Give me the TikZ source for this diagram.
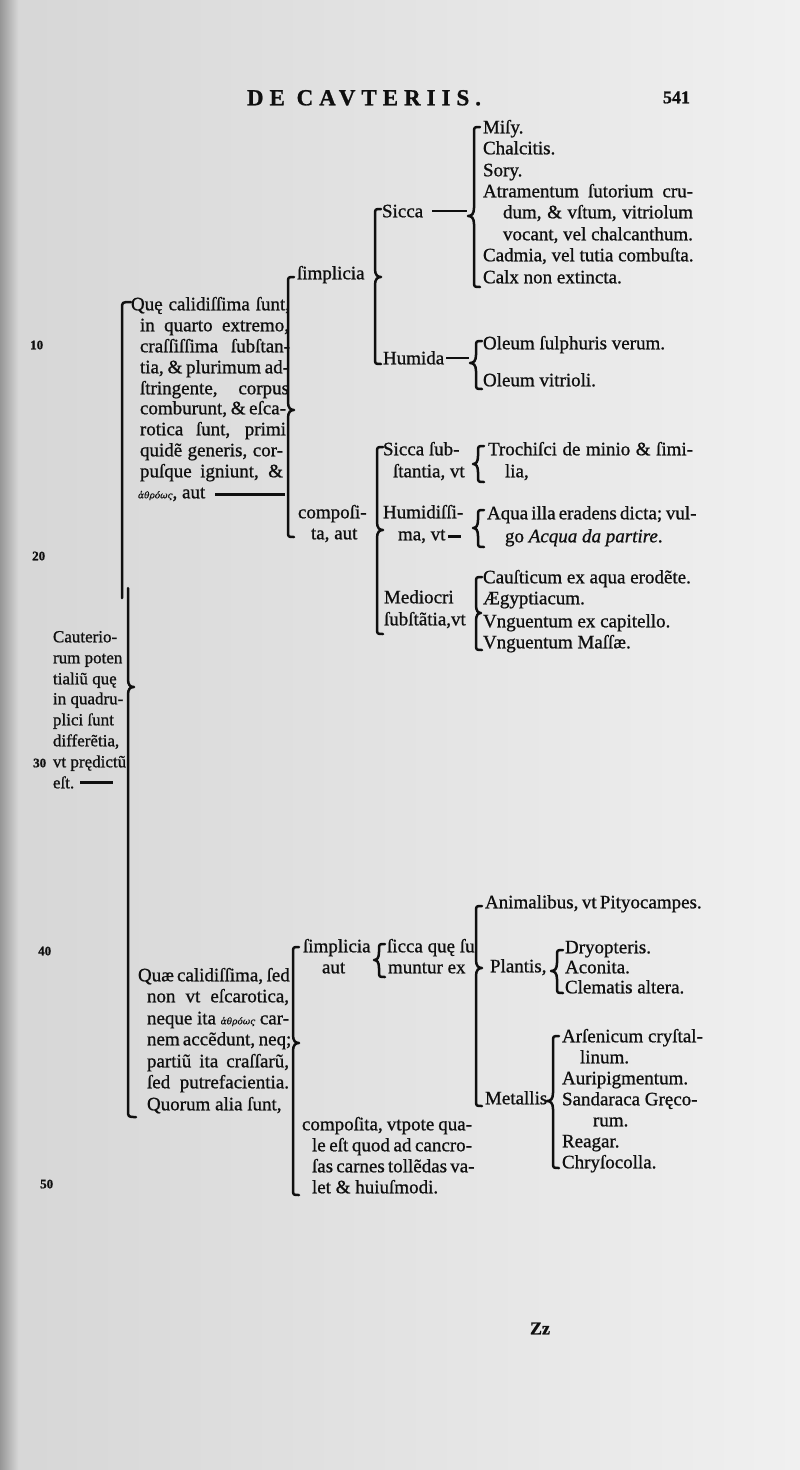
\documentclass[tikz,border=0pt]{standalone}
\usepackage{fontspec}
\setmainfont{Liberation Serif}[FakeBold=0.9]
\newfontfamily\grk{DejaVu Serif}[FakeBold=0.6]
\definecolor{ink}{RGB}{15,15,15}
\definecolor{bgl}{RGB}{214,214,214}
\definecolor{bgr}{RGB}{240,240,240}
\definecolor{edgec}{RGB}{150,150,150}
\newcommand\J[2]{\makebox[#1pt][s]{#2}}
\newcommand\gk[1]{{\grk\itshape\fontsize{9}{9}\selectfont #1}}
% x, top, mid, bottom, bump (+ right, - left)
\newcommand\mybrace[5]{%
 \draw[brc] ({#1+6},#2) .. controls (#1,#2) .. (#1,{#2+6}) -- (#1,{#3-8})
   .. controls (#1,{#3-2}) and ({#1+#5*0.4},#3) .. ({#1+#5},#3) .. controls ({#1+#5*0.4},#3) and (#1,{#3+2}) .. (#1,{#3+8})
   -- (#1,{#4-6}) .. controls (#1,#4) .. ({#1+6},#4);}
\tikzset{
 txt/.style={anchor=mid west, inner sep=0pt, outer sep=0pt, text=ink, font=\fontsize{19}{21}\selectfont},
 rtxt/.style={txt, font=\fontsize{17}{20}\selectfont},
 num/.style={anchor=mid west, inner sep=0pt, text=ink, font=\fontsize{13}{13}\selectfont\bfseries},
 brc/.style={draw=ink, line width=2.5pt, line cap=round, line join=round},
 rule/.style={draw=ink, line width=2.2pt},
}
\begin{document}
\begin{tikzpicture}[x=1pt,y=-1pt]
\useasboundingbox (0,0) rectangle (800,1470);
\shade[left color=bgl, right color=bgr] (0,0) rectangle (800,1470);
\shade[left color=edgec, right color=bgl] (0,0) rectangle (18,1470);

% header
\node[txt, anchor=mid, font=\fontsize{23}{23}\selectfont\bfseries\addfontfeature{LetterSpace=26}] (title) at (364,103) {DE CAVTERIIS.};
\node[txt, font=\fontsize{18}{18}\selectfont\bfseries] (pg) at (663,101) {541};

% line numbers
\node[num] (n10) at (30,347) {10};
\node[num] (n20) at (32,558) {20};
\node[num] (n30) at (33,765) {30};
\node[num] (n40) at (38,953) {40};
\node[num] (n50) at (40,1186) {50};

% root block
\node[rtxt] (r1) at (53,640) {Cauterio-};
\node[rtxt] (r2) at (53,661) {rum poten};
\node[rtxt] (r3) at (53,682) {tialiũ quę};
\node[rtxt] (r4) at (53,702) {in quadru-};
\node[rtxt] (r5) at (53,723) {plici ſunt};
\node[rtxt] (r6) at (53,744) {differẽtia,};
\node[rtxt] (r7) at (53,765) {vt prędictũ};
\node[rtxt] (est) at (53,786) {eſt.};
\coordinate (estEnd) at (113,786);
\draw[rule] ([xshift=6pt]est.east) -- (estEnd |- est.east);

% root brace
\draw[brc] (131,302) .. controls (122,302) .. (122,309) -- (122,598);
\draw[brc] (128,588) -- (128,679) .. controls (128,685) and (130,687) .. (134,687) .. controls (130,687) and (128,689) .. (128,695) -- (128,1110) .. controls (128,1117) .. (136,1117);

% first branch text
\node[txt] (q1) at (131,308) {\J{159}{Quę calidiſſima ſunt,}};
\node[txt] (q2) at (140,329) {\J{149}{in quarto extremo,}};
\node[txt] (q3) at (140,350) {\J{150}{craſſiſſima ſubſtan-}};
\node[txt] (q4) at (140,371) {\J{149}{tia, \& plurimum ad-}};
\node[txt] (q5) at (140,392) {\J{149}{ſtringente, corpus}};
\node[txt] (q6) at (140,412) {\J{146}{comburunt, \& eſca-}};
\node[txt] (q7) at (140,433) {\J{146}{rotica ſunt, primi}};
\node[txt] (q8) at (140,454) {\J{143}{quidẽ generis, cor-}};
\node[txt] (q9) at (140,475) {\J{143}{puſque igniunt, \&}};
\node[txt] (q10) at (138,496) {\gk{ἀθρόως}, aut};
\coordinate (autEnd) at (285,497);
\draw[rule] ([xshift=10pt]q10.east) -- (autEnd |- q10.east);

\mybrace{288}{277}{410}{537}{6}
\node[txt] (simp1) at (297,277) {ſimplicia};
\node[txt] (comp1a) at (298,516) {compoſi-};
\node[txt] (comp1b) at (311,537) {ta, aut};

% simplicia -> Sicca / Humida
\mybrace{375}{209}{277}{364}{6}
\node[txt] (sicca) at (382,215) {Sicca};
\node[txt] (humida) at (383,362) {Humida};
\coordinate (siccaCusp) at (467,216);
\draw[rule] ([xshift=9pt]sicca.east) -- (siccaCusp |- sicca.east);
\coordinate (humCusp) at (469,362);
\draw[rule] ([xshift=2pt]humida.east) -- (humCusp |- humida.east);

% Sicca leaves
\mybrace{474}{127}{216}{287}{-6}
\node[txt] (s1) at (483,131) {Miſy.};
\node[txt] (s2) at (483,152) {Chalcitis.};
\node[txt] (s3) at (483,174) {Sory.};
\node[txt] (s4) at (483,195) {\J{210}{Atramentum ſutorium cru-}};
\node[txt] (s5) at (503,216) {\J{190}{dum, \& vſtum, vitriolum}};
\node[txt] (s6) at (503,238) {vocant, vel chalcanthum.};
\node[txt] (s7) at (483,259) {Cadmia, vel tutia combuſta.};
\node[txt] (s8) at (483,281) {Calx non extincta.};

% Humida leaves
\mybrace{476}{341}{363}{389}{-6}
\node[txt] (h1) at (483,347) {Oleum ſulphuris verum.};
\node[txt] (h2) at (483,384) {Oleum vitrioli.};

% composita -> three
\mybrace{377}{447}{530}{634}{6}
\node[txt] (ss1) at (383,453) {Sicca ſub-};
\node[txt] (ss2) at (393,475) {ſtantia, vt};
\node[txt] (hu1) at (383,516) {Humidiſſi-};
\node[txt] (mavt) at (398,538) {ma, vt};
\coordinate (mCusp) at (461,538);
\draw[rule] ([xshift=3pt]mavt.east) -- (mCusp |- mavt.east);
\node[txt] (me1) at (384,601) {Mediocri};
\node[txt] (me2) at (384,623) {ſubſtãtia,vt};

\mybrace{478}{446}{464}{482}{-5}
\node[txt] (t1) at (488,453) {\J{205}{Trochiſci de minio \& ſimi-}};
\node[txt] (t2) at (505,475) {lia,};

\mybrace{478}{510}{528}{547}{-5}
\node[txt] (a1) at (487,517) {\J{206}{Aqua illa eradens dicta; vul-}};
\node[txt] (a2) at (505,540) {go \textit{Acqua da partire}.};

\mybrace{476}{577}{613}{650}{5}
\node[txt] (c1) at (483,581) {Cauſticum ex aqua erodẽte.};
\node[txt] (c2) at (483,602) {Ægyptiacum.};
\node[txt] (c3) at (483,625) {Vnguentum ex capitello.};
\node[txt] (c4) at (483,646) {Vnguentum Maſſæ.};

% second branch
\node[txt] (b1) at (138,979) {\J{151}{Quæ calidiſſima, ſed}};
\node[txt] (b2) at (147,1000) {\J{142}{non vt eſcarotica,}};
\node[txt] (b3) at (147,1022) {\J{142}{neque ita \gk{ἀθρόως} car-}};
\node[txt] (b4) at (147,1043) {\J{142}{nem accẽdunt, neq;}};
\node[txt] (b5) at (147,1065) {\J{142}{partiũ ita craſſarũ,}};
\node[txt] (b6) at (147,1086) {\J{142}{ſed putrefacientia.}};
\node[txt] (b7) at (147,1108) {Quorum alia ſunt,};

\mybrace{293}{947}{1043}{1195}{6}
\node[txt] (simp2a) at (303,950) {ſimplicia};
\node[txt] (simp2b) at (322,971) {aut};
\node[txt] (cp1) at (302,1128) {\J{170}{compoſita, vtpote qua-}};
\node[txt] (cp2) at (312,1149) {\J{160}{le eſt quod ad cancro-}};
\node[txt] (cp3) at (312,1170) {\J{160}{ſas carnes tollẽdas va-}};
\node[txt] (cp4) at (312,1191) {let \& huiuſmodi.};

\mybrace{379}{944}{960}{977}{-5}
\node[txt] (sq1) at (387,950) {ſicca quę ſu};
\node[txt] (sq2) at (388,971) {muntur ex};

\mybrace{476}{906}{968}{1106}{6}
\node[txt] (an) at (485,906) {\J{212}{Animalibus, vt Pityocampes.}};
\node[txt] (pl) at (490,970) {Plantis,};
\node[txt] (mt) at (485,1102) {Metallis};

\mybrace{557}{950}{971}{993}{-6}
\node[txt] (p1) at (565,951) {Dryopteris.};
\node[txt] (p2) at (565,971) {Aconita.};
\node[txt] (p3) at (565,991) {Clematis altera.};

\mybrace{553}{1036}{1101}{1168}{-6}
\node[txt] (m1) at (562,1040) {Arſenicum cryſtal-};
\node[txt] (m2) at (580,1061) {linum.};
\node[txt] (m3) at (562,1082) {Auripigmentum.};
\node[txt] (m4) at (562,1103) {Sandaraca Gręco-};
\node[txt] (m5) at (593,1124) {rum.};
\node[txt] (m6) at (562,1145) {Reagar.};
\node[txt] (m7) at (562,1166) {Chryſocolla.};

% signature
\node[txt, font=\fontsize{18}{18}\selectfont\bfseries] (sig) at (530,1332) {Zz};
\end{tikzpicture}
\end{document}
